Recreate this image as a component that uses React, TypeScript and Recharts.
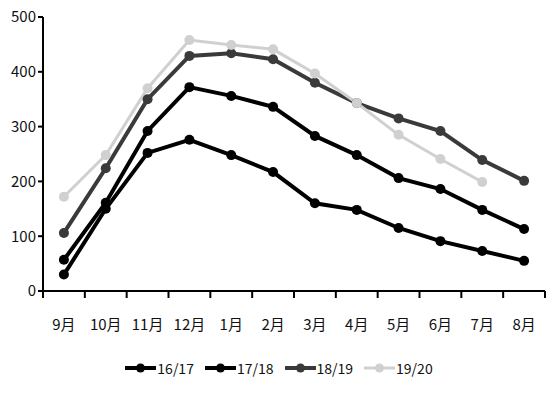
import { Legend, Line, LineChart, XAxis, YAxis } from "recharts";

const months = ["9月", "10月", "11月", "12月", "1月", "2月", "3月", "4月", "5月", "6月", "7月", "8月"];
const s1617 = [30, 150, 252, 276, 248, 217, 160, 148, 115, 91, 73, 55];
const s1718 = [57, 161, 292, 372, 356, 336, 283, 248, 206, 186, 148, 113];
const s1819 = [106, 224, 350, 429, 434, 423, 380, 343, 315, 292, 239, 201];
const s1920 = [172, 248, 370, 458, 449, 441, 397, 343, 285, 241, 199, null];
const yTicks = [0, 100, 200, 300, 400, 500];

const series = [
  { key: "a", name: "16/17", color: "#000000", width: 4, values: s1617 },
  { key: "b", name: "17/18", color: "#000000", width: 4, values: s1718 },
  { key: "c", name: "18/19", color: "#3a3a3a", width: 4, values: s1819 },
  { key: "d", name: "19/20", color: "#d0d0d0", width: 3, values: s1920 },
];

const data = months.map((m, i) => {
  const row: Record<string, string | number | null> = { month: m };
  series.forEach((s) => {
    row[s.key] = s.values[i];
  });
  return row;
});

const FONT = '"Noto Sans CJK SC", "Noto Sans", sans-serif';

// label in the middle of each band, tick marks on the band edges
function MonthTick(props: any) {
  const { x, y, payload, index, visibleTicksCount } = props;
  const half = payload.offset || 0;
  const last = index === visibleTicksCount - 1;
  return (
    <g>
      <line x1={x - half} y1={y} x2={x - half} y2={y + 7} stroke="#000" strokeWidth={2} />
      {last && <line x1={x + half} y1={y} x2={x + half} y2={y + 7} stroke="#000" strokeWidth={2} />}
      <text x={x} y={y + 32} textAnchor="middle" dominantBaseline="central" fill="#111" fontSize={15} fontFamily={FONT}>
        {payload.value}
      </text>
    </g>
  );
}

function LegendContent() {
  return (
    <div style={{ display: "flex", justifyContent: "center", gap: 11, fontFamily: FONT, fontSize: 14 }}>
      {series.map((s) => (
        <div key={s.key} style={{ display: "flex", alignItems: "center" }}>
          <svg width={31} height={12}>
            <line x1={0} y1={6} x2={31} y2={6} stroke={s.color} strokeWidth={s.width} />
            <circle cx={15.5} cy={6} r={4.5} fill={s.color} />
          </svg>
          <span style={{ color: "#111", marginLeft: 1 }}>{s.name}</span>
        </div>
      ))}
    </div>
  );
}

export default function App() {
  return (
    <div style={{ position: "absolute", left: 0, top: 0, background: "#fff" }}>
      <LineChart width={558} height={398} data={data} margin={{ top: 17, right: 13, bottom: 67, left: 0 }}>
        <XAxis
          dataKey="month"
          scale="band"
          axisLine={{ stroke: "#000", strokeWidth: 2 }}
          tickLine={false}
          tickSize={0}
          tickMargin={0}
          interval={0}
          height={40}
          tick={<MonthTick />}
        />
        <YAxis
          domain={[0, 500]}
          ticks={yTicks}
          width={43}
          tickSize={5}
          tick={{ fill: "#111", fontSize: 15, fontFamily: FONT }}
          axisLine={{ stroke: "#000", strokeWidth: 2 }}
          tickLine={{ stroke: "#000", strokeWidth: 2 }}
        />
        <Legend
          content={<LegendContent />}
          layout="horizontal"
          verticalAlign="middle"
          align="center"
          wrapperStyle={{ top: 358, left: 0, width: 558 }}
        />
        {series.map((s) => (
          <Line
            key={s.key}
            dataKey={s.key}
            name={s.name}
            type="linear"
            stroke={s.color}
            strokeWidth={s.width}
            dot={{ r: 5, fill: s.color, stroke: s.color, strokeWidth: 0 }}
            activeDot={false}
            isAnimationActive={false}
          />
        ))}
      </LineChart>
    </div>
  );
}
